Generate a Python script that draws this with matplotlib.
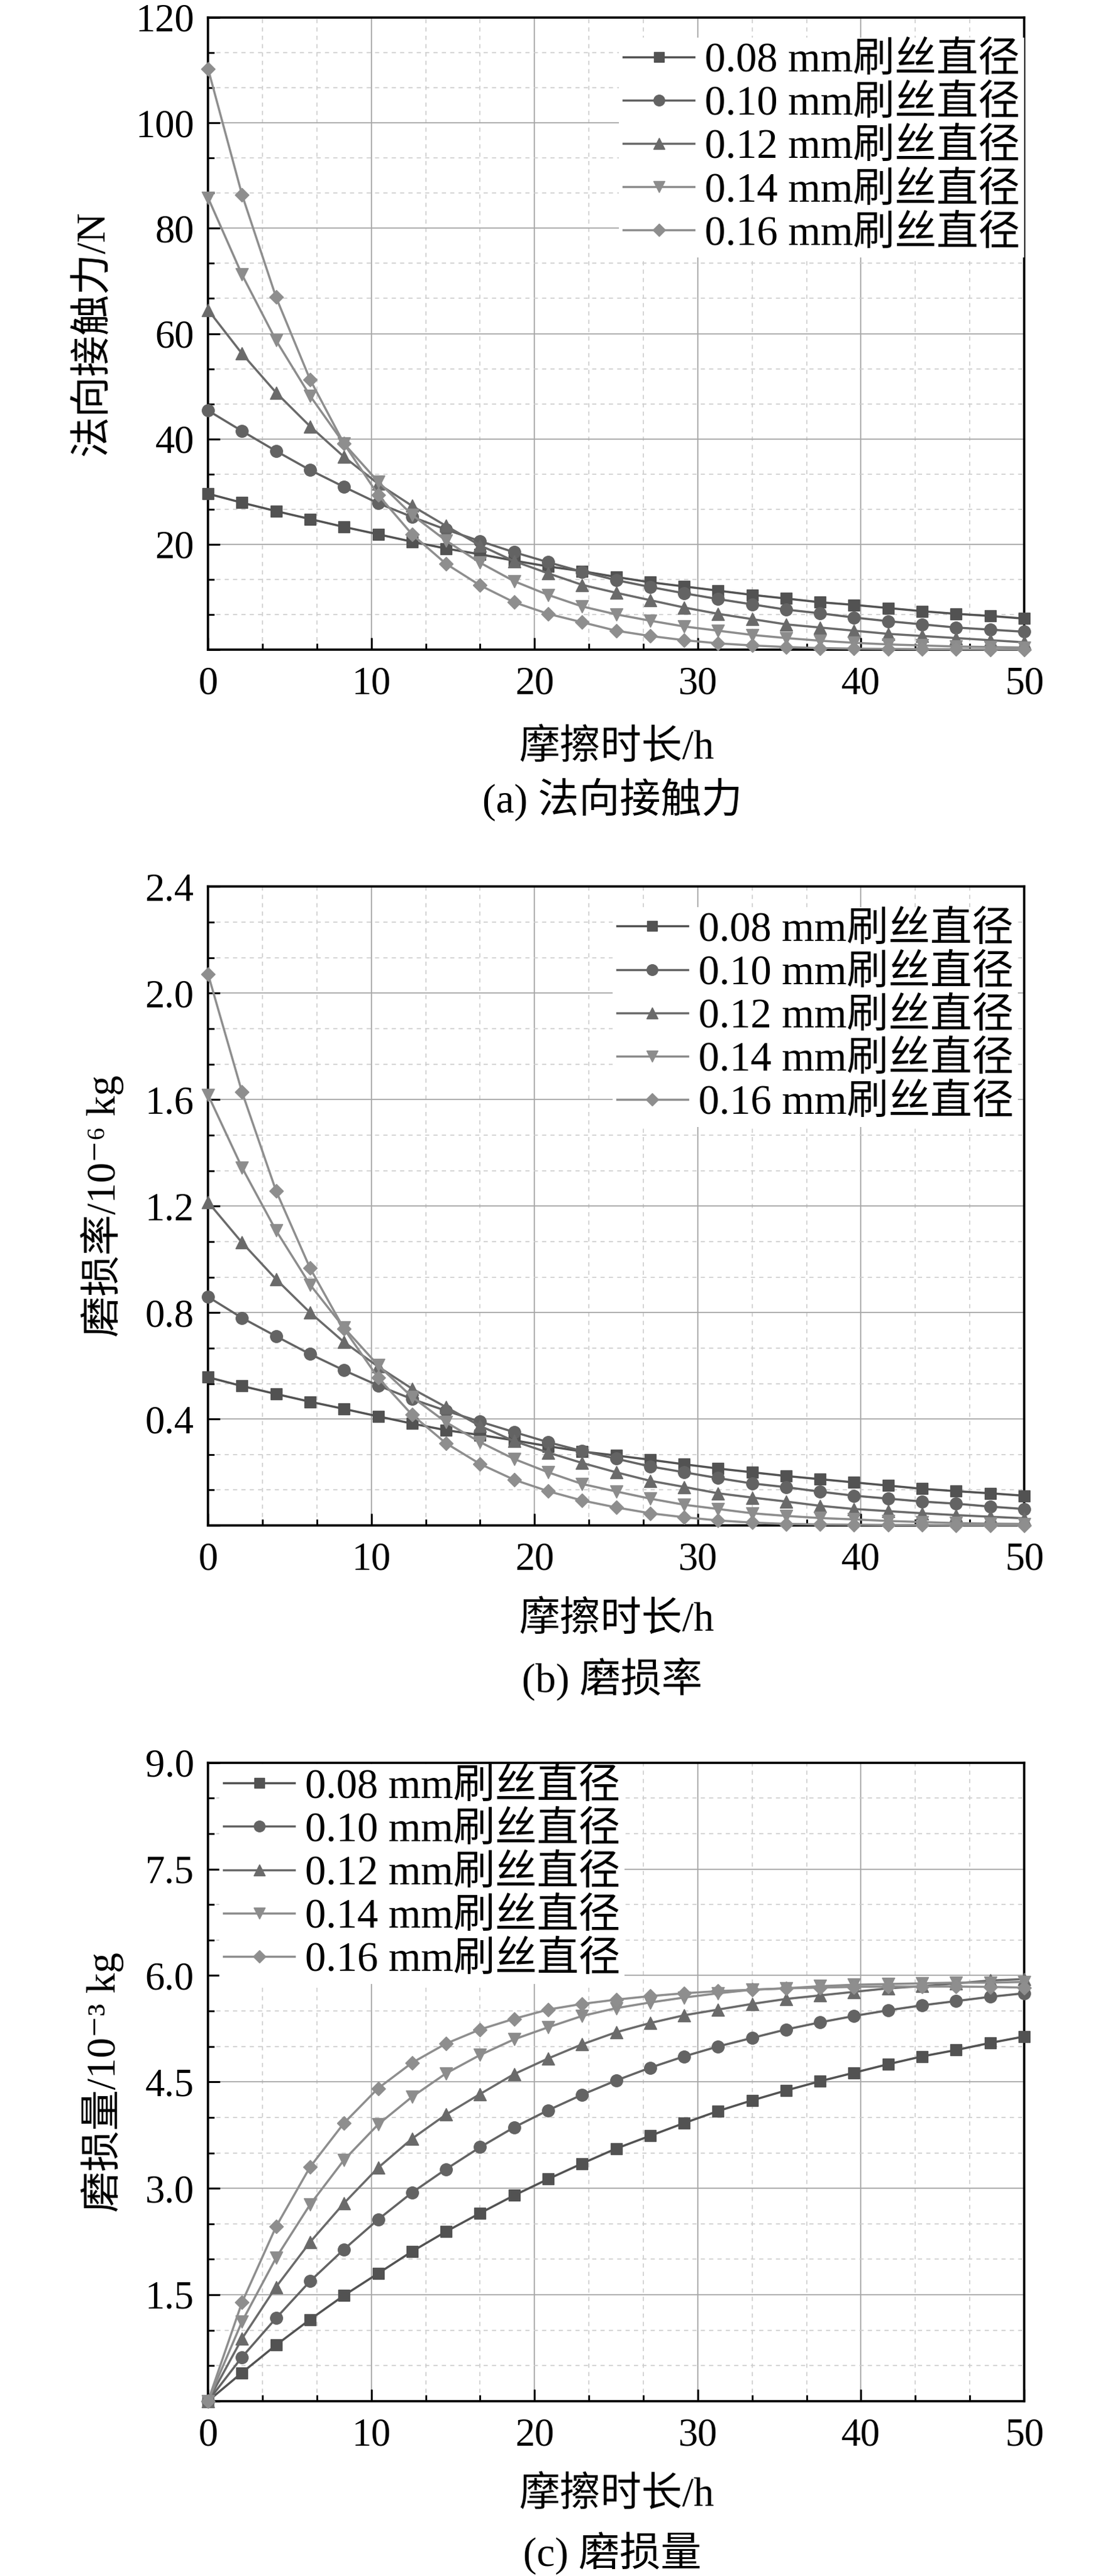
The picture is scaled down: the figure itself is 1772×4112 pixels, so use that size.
import matplotlib
matplotlib.use("Agg")
import matplotlib.pyplot as plt
from matplotlib.ticker import MultipleLocator, FuncFormatter

plt.rcParams['font.family'] = ['Liberation Serif', 'Noto Sans CJK SC', 'DejaVu Sans']
plt.rcParams['axes.unicode_minus'] = False

# friction time (h), 25 samples
hours = [0, 2.08, 4.17, 6.25, 8.33, 10.42, 12.5, 14.58, 16.67, 18.75, 20.83, 22.92,
         25, 27.08, 29.17, 31.25, 33.33, 35.42, 37.5, 39.58, 41.67, 43.75, 45.83, 47.92, 50]

labels = ['0.08 mm刷丝直径', '0.10 mm刷丝直径', '0.12 mm刷丝直径',
          '0.14 mm刷丝直径', '0.16 mm刷丝直径']

# (a) normal contact force / N
force_008 = [29.6, 27.9, 26.3, 24.8, 23.3, 21.9, 20.5, 19.2, 18.1, 16.9, 15.8, 14.9, 13.8,
             12.8, 12.0, 11.2, 10.4, 9.7, 9.0, 8.5, 7.9, 7.3, 6.8, 6.4, 5.9]
force_010 = [45.4, 41.5, 37.7, 34.1, 30.9, 27.8, 25.2, 22.8, 20.6, 18.5, 16.6, 14.8, 13.2,
             11.9, 10.7, 9.6, 8.6, 7.6, 6.9, 6.1, 5.4, 4.8, 4.2, 3.8, 3.4]
force_012 = [64.5, 56.2, 48.8, 42.4, 36.6, 31.5, 27.3, 23.5, 19.8, 16.8, 14.5, 12.3, 10.8,
             9.4, 8.0, 6.8, 5.8, 4.8, 4.2, 3.6, 3.0, 2.6, 2.2, 1.8, 1.4]
force_014 = [85.8, 71.2, 58.7, 48.2, 39.1, 31.9, 25.6, 20.7, 16.5, 13.0, 10.4, 8.2, 6.7,
             5.5, 4.4, 3.6, 2.8, 2.2, 1.7, 1.3, 1.0, 0.8, 0.6, 0.5, 0.4]
force_016 = [110.3, 86.4, 66.9, 51.3, 39.1, 29.4, 21.9, 16.3, 12.2, 9.0, 6.8, 5.2, 3.6,
             2.6, 1.8, 1.2, 0.8, 0.5, 0.3, 0.2, 0.15, 0.1, 0.08, 0.05, 0.04]

# (b) wear rate / 1e-6 kg
rate_008 = [0.557, 0.524, 0.494, 0.465, 0.438, 0.410, 0.383, 0.358, 0.340, 0.320, 0.298,
            0.278, 0.263, 0.247, 0.230, 0.214, 0.200, 0.186, 0.174, 0.162, 0.150, 0.138,
            0.129, 0.121, 0.112]
rate_010 = [0.859, 0.780, 0.711, 0.644, 0.583, 0.526, 0.475, 0.431, 0.390, 0.351, 0.313,
            0.280, 0.251, 0.222, 0.200, 0.178, 0.158, 0.144, 0.127, 0.112, 0.101, 0.090,
            0.082, 0.071, 0.062]
rate_012 = [1.215, 1.063, 0.925, 0.800, 0.689, 0.597, 0.514, 0.445, 0.374, 0.317, 0.274,
            0.235, 0.200, 0.168, 0.145, 0.121, 0.105, 0.090, 0.074, 0.062, 0.054, 0.046,
            0.039, 0.033, 0.027]
rate_014 = [1.618, 1.345, 1.108, 0.905, 0.743, 0.602, 0.483, 0.388, 0.313, 0.250, 0.200,
            0.156, 0.128, 0.101, 0.078, 0.062, 0.046, 0.036, 0.028, 0.023, 0.017, 0.013,
            0.009, 0.007, 0.006]
rate_016 = [2.072, 1.629, 1.257, 0.967, 0.739, 0.555, 0.416, 0.309, 0.231, 0.172, 0.129,
            0.094, 0.068, 0.046, 0.031, 0.019, 0.011, 0.006, 0.004, 0.003, 0.002, 0.002,
            0.001, 0.001, 0.001]

# (c) wear amount / 1e-3 kg
wear_008 = [0, 0.40, 0.79, 1.15, 1.49, 1.80, 2.11, 2.39, 2.65, 2.90, 3.13, 3.35, 3.56,
            3.74, 3.92, 4.09, 4.24, 4.38, 4.51, 4.63, 4.75, 4.86, 4.95, 5.05, 5.14]
wear_010 = [0, 0.62, 1.17, 1.69, 2.14, 2.56, 2.94, 3.27, 3.58, 3.86, 4.10, 4.32, 4.52,
            4.70, 4.86, 5.00, 5.12, 5.24, 5.34, 5.43, 5.51, 5.58, 5.64, 5.70, 5.75]
wear_012 = [0, 0.88, 1.61, 2.24, 2.79, 3.29, 3.70, 4.04, 4.33, 4.61, 4.83, 5.03, 5.20,
            5.33, 5.44, 5.52, 5.60, 5.67, 5.72, 5.77, 5.82, 5.85, 5.89, 5.93, 5.95]
wear_014 = [0, 1.12, 2.02, 2.77, 3.40, 3.90, 4.29, 4.62, 4.88, 5.10, 5.27, 5.43, 5.54,
            5.62, 5.69, 5.75, 5.80, 5.82, 5.85, 5.87, 5.88, 5.89, 5.90, 5.90, 5.91]
wear_016 = [0, 1.39, 2.46, 3.30, 3.92, 4.41, 4.77, 5.04, 5.24, 5.39, 5.52, 5.60, 5.66,
            5.71, 5.75, 5.78, 5.80, 5.82, 5.83, 5.84, 5.845, 5.845, 5.845, 5.84, 5.83]

colors = ['#525252', '#636363', '#6a6a6a', '#8c8c8c', '#8e8e8e']
markers = ['s', 'o', '^', 'v', 'D']
msizes = [13, 14, 15, 15, 11]

fig = plt.figure(figsize=(17.72, 41.12), dpi=100)

panels = [
    dict(rect=[0.1874, 0.7478, 0.7353, 0.2454], data=[force_008, force_010, force_012, force_014, force_016],
         ylim=(0, 120), major=20, ylabel='法向接触力/N', fmt='{:.0f}', cap='(a) 法向接触力',
         leg_loc='upper right', leg_anchor=(1.0, 0.968), ylab_x=-0.117, xl_y=-0.156, cap_y=-0.237),
    dict(rect=[0.1874, 0.4078, 0.7353, 0.2480], data=[rate_008, rate_010, rate_012, rate_014, rate_016],
         ylim=(0, 2.4), major=0.4, ylabel='磨损率/10⁻⁶ kg', fmt='{:.1f}', cap='(b) 磨损率',
         leg_loc='upper right', leg_anchor=(0.992, 0.968), ylab_x=-0.103, xl_y=-0.148, cap_y=-0.240),
    dict(rect=[0.1874, 0.0679, 0.7353, 0.2478], data=[wear_008, wear_010, wear_012, wear_014, wear_016],
         ylim=(0, 9.0), major=1.5, ylabel='磨损量/10⁻³ kg', fmt='{:.1f}', cap='(c) 磨损量',
         leg_loc='upper left', leg_anchor=(0.014, 0.998), ylab_x=-0.103, xl_y=-0.148, cap_y=-0.238),
]

for p in panels:
    ax = fig.add_axes(p['rect'])
    for ys, lab, c, m, ms in zip(p['data'], labels, colors, markers, msizes):
        ax.plot(hours, ys, color=c, marker=m, markersize=ms, linewidth=2.5,
                label=lab, clip_on=False, zorder=3)

    ax.set_xlim(0, 50)
    ax.set_ylim(*p['ylim'])
    ax.xaxis.set_major_locator(MultipleLocator(10))
    ax.xaxis.set_minor_locator(MultipleLocator(10 / 3))
    ax.yaxis.set_major_locator(MultipleLocator(p['major']))
    ax.yaxis.set_minor_locator(MultipleLocator(p['major'] / 3))
    fmt = p['fmt']
    ax.yaxis.set_major_formatter(FuncFormatter(lambda v, pos, f=fmt: '' if abs(v) < 1e-9 else f.format(v)))

    ax.tick_params(which='both', direction='in', top=False, right=False, labelsize=45)
    ax.tick_params(which='major', length=14, width=2.2)
    ax.tick_params(which='minor', length=7, width=2.0)
    ax.tick_params(axis='x', pad=19)
    ax.tick_params(axis='y', pad=16)
    for s in ax.spines.values():
        s.set_linewidth(2.6)

    ax.grid(which='major', color='#a8a8a8', linewidth=1.3, zorder=0)
    ax.grid(which='minor', color='#cdcdcd', linewidth=1.2, linestyle=(0, (4, 4)), zorder=0)
    ax.set_axisbelow(True)

    ax.set_ylabel(p['ylabel'], fontsize=47)
    ax.yaxis.set_label_coords(p['ylab_x'], 0.5)
    ax.text(0.5, p['xl_y'], '摩擦时长/h', transform=ax.transAxes, fontsize=47,
            ha='center', va='center')
    ax.text(0.495, p['cap_y'], p['cap'], transform=ax.transAxes, fontsize=47,
            ha='center', va='center')

    leg = ax.legend(loc=p['leg_loc'], bbox_to_anchor=p['leg_anchor'], fontsize=48,
                    frameon=True, facecolor='white', edgecolor='none', framealpha=1.0,
                    fancybox=False, borderaxespad=0.0, borderpad=0.1, labelspacing=0.12,
                    handlelength=1.7, handletextpad=0.25, markerscale=0.9)
    leg.set_zorder(5)

fig.savefig('out.png', dpi=100)
